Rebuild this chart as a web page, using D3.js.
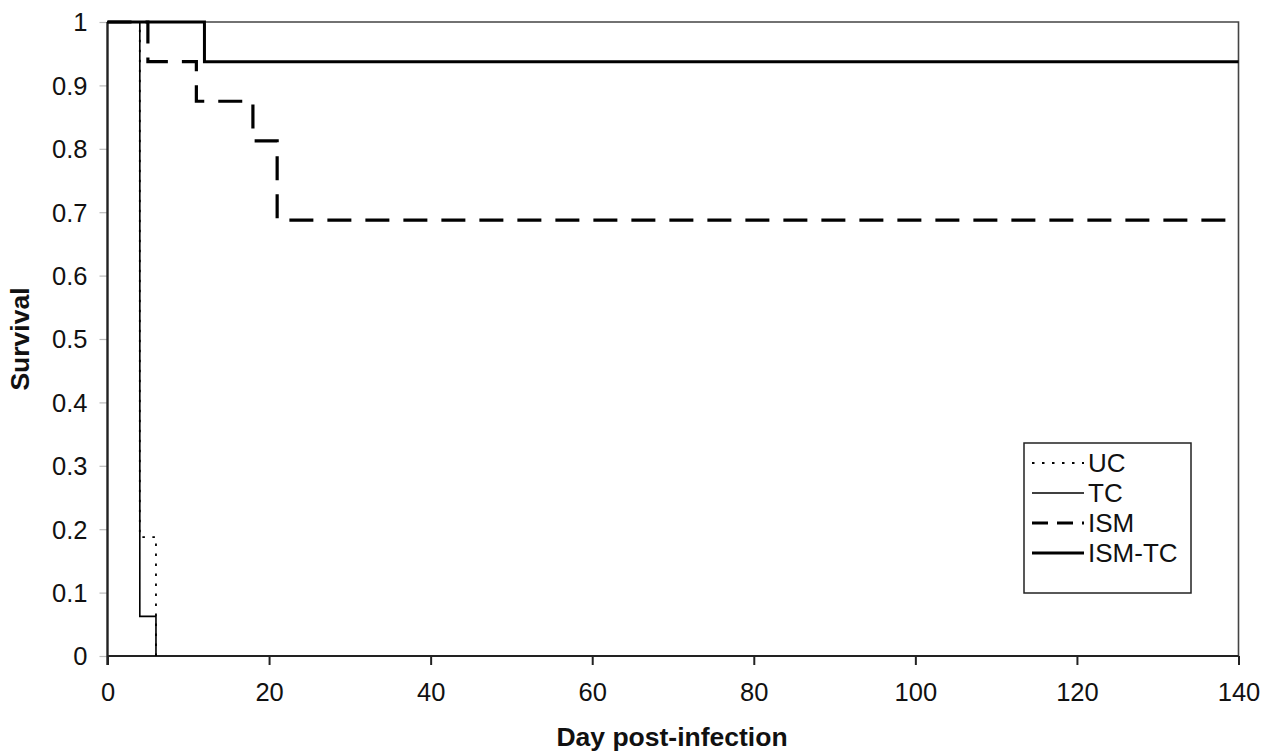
<!DOCTYPE html>
<html><head><meta charset="utf-8">
<script src="https://cdn.jsdelivr.net/npm/d3@7"></script>
<style>body{margin:0;background:#fff}svg{display:block}text{font-family:"Liberation Sans",Arial,sans-serif}</style>
</head><body><svg id="c" width="1271" height="756"></svg>
<script>
const xTicks = [0,20,40,60,80,100,120,140];
const yTicks = [0,0.1,0.2,0.3,0.4,0.5,0.6,0.7,0.8,0.9,1];
const seriesNames = ["UC","TC","ISM","ISM-TC"];
const ucDays = [0,4,6];      const ucSurv = [1,0.1875,0];
const tcDays = [0,4,6];      const tcSurv = [1,0.0625,0];
const ismDays = [0,5,11,18,21,140]; const ismSurv = [1,0.9375,0.875,0.8125,0.6875,0.6875];
const ismtcDays = [0,12,140]; const ismtcSurv = [1,0.9375,0.9375];

const svg = d3.select("#c");
const L=107.5, R=1238.5, T=22, B=656;
const x = d3.scaleLinear().domain([0,140]).range([L,R]);
const y = d3.scaleLinear().domain([0,1]).range([B,T]);

// plot border (top & right)
svg.append("path").attr("d",`M${L},${T}H${R}V${B}`).attr("fill","none").attr("stroke","#444").attr("stroke-width",1.6);

// y axis
const ya = svg.append("g").attr("transform",`translate(${L},0)`)
  .call(d3.axisLeft(y).tickValues(yTicks).tickSize(8).tickFormat(d=>d3.format("")(+d.toFixed(1))));
ya.select(".domain").remove();
ya.selectAll(".tick line").attr("stroke","#bbb").attr("stroke-width",1.2);
ya.selectAll(".tick text").attr("font-size",25.5).attr("fill","#111").attr("x",-20).attr("dy","0.35em");
svg.append("line").attr("x1",L).attr("x2",L).attr("y1",T).attr("y2",B+9).attr("stroke","#222").attr("stroke-width",2.4);

// x axis
const xa = svg.append("g").attr("transform",`translate(0,${B})`)
  .call(d3.axisBottom(x).tickValues(xTicks).tickSize(9));
xa.select(".domain").remove();
xa.selectAll(".tick line").attr("stroke","#222").attr("stroke-width",2);
xa.selectAll(".tick text").attr("font-size",25.5).attr("fill","#111").attr("y",27).attr("dy","0.71em");
svg.append("line").attr("x1",L).attr("x2",R).attr("y1",B).attr("y2",B).attr("stroke","#222").attr("stroke-width",2.2);

// titles
svg.append("text").attr("x",672).attr("y",746).attr("text-anchor","middle")
  .attr("font-size",26.5).attr("font-weight","bold").attr("fill","#111").text("Day post-infection");
svg.append("text").attr("transform",`translate(29,${(T+B)/2}) rotate(-90)`).attr("text-anchor","middle")
  .attr("font-size",26.5).attr("font-weight","bold").attr("fill","#111").text("Survival");

const styles = {
  "UC":{w:1.8,dash:"2.5,7.5"},
  "TC":{w:1.6,dash:null},
  "ISM":{w:3.2,dash:"24,14"},
  "ISM-TC":{w:3,dash:null}
};
const data = {
  "UC": ucDays.map((d,i)=>[d,ucSurv[i]]),
  "TC": tcDays.map((d,i)=>[d,tcSurv[i]]),
  "ISM": ismDays.map((d,i)=>[d,ismSurv[i]]),
  "ISM-TC": ismtcDays.map((d,i)=>[d,ismtcSurv[i]])
};
const line = d3.line().x(d=>x(d[0])).y(d=>y(d[1])).curve(d3.curveStepAfter);
seriesNames.forEach(n=>{
  svg.append("path").attr("d",line(data[n])).attr("fill","none").attr("stroke","#000")
    .attr("stroke-width",styles[n].w).attr("stroke-dasharray",styles[n].dash);
});

// legend
const lg = svg.append("g");
lg.append("rect").attr("x",1024).attr("y",443).attr("width",167).attr("height",150)
  .attr("fill","#fff").attr("stroke","#222").attr("stroke-width",1.5);
seriesNames.forEach((n,i)=>{
  const yy = 463 + i*30;
  lg.append("line").attr("x1",1032).attr("x2",1084).attr("y1",yy).attr("y2",yy).attr("stroke","#000")
    .attr("stroke-width",styles[n].w).attr("stroke-dasharray",n==="ISM"?"16,9":styles[n].dash);
  lg.append("text").attr("x",1088).attr("y",yy).attr("dy","0.36em").attr("font-size",26).attr("fill","#111").text(n);
});
</script></body></html>
